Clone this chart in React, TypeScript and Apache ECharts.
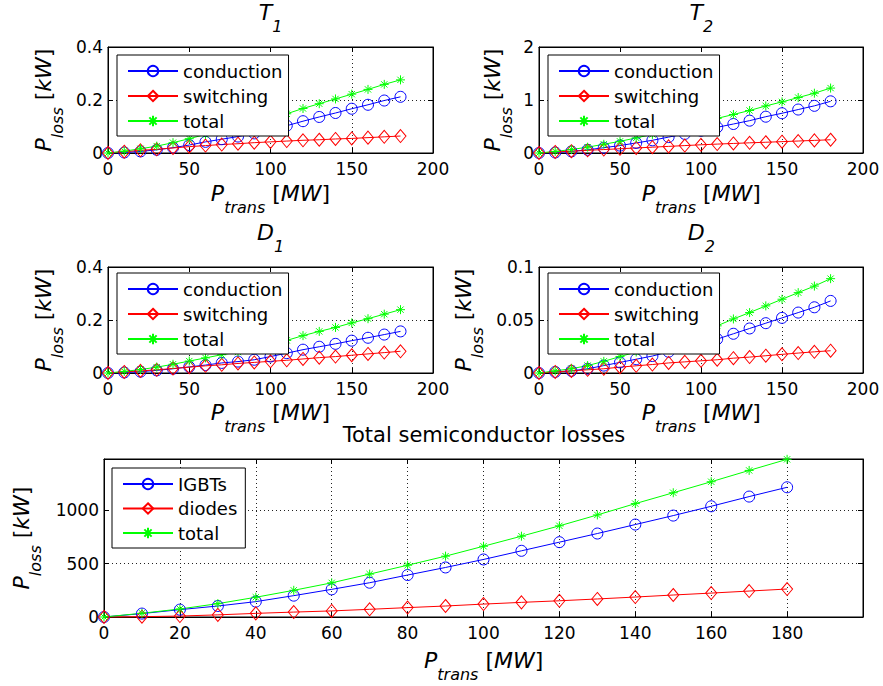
import React, { useEffect, useRef } from "react";
import * as echarts from "echarts";

const F = "DejaVu Sans";

const xs = [0, 10, 20, 30, 40, 50, 60, 70, 80, 90, 100, 110, 120, 130, 140, 150, 160, 170, 180];

const t1Conduction = [0, 0.002, 0.006, 0.012, 0.02, 0.03, 0.042, 0.052, 0.062, 0.074, 0.088, 0.103, 0.12, 0.136, 0.151, 0.167, 0.182, 0.198, 0.212];
const t1Switching = [0, 0.005, 0.01, 0.014, 0.019, 0.024, 0.028, 0.032, 0.035, 0.039, 0.042, 0.045, 0.048, 0.05, 0.053, 0.055, 0.058, 0.061, 0.064];
const t1Total = [0, 0.007, 0.016, 0.026, 0.039, 0.054, 0.07, 0.084, 0.097, 0.113, 0.13, 0.148, 0.168, 0.186, 0.204, 0.222, 0.24, 0.259, 0.276];

const t2Conduction = [0, 0.01, 0.03, 0.06, 0.1, 0.14, 0.19, 0.24, 0.3, 0.36, 0.42, 0.485, 0.547, 0.61, 0.685, 0.75, 0.82, 0.89, 0.975];
const t2Switching = [0, 0.02, 0.035, 0.05, 0.065, 0.08, 0.095, 0.11, 0.125, 0.14, 0.155, 0.168, 0.18, 0.192, 0.203, 0.214, 0.226, 0.238, 0.25];
const t2Total = [0, 0.03, 0.065, 0.11, 0.165, 0.22, 0.285, 0.35, 0.425, 0.5, 0.575, 0.653, 0.727, 0.802, 0.888, 0.964, 1.046, 1.128, 1.225];

const d1Conduction = [0, 0.002, 0.005, 0.01, 0.016, 0.023, 0.03, 0.038, 0.043, 0.05, 0.062, 0.075, 0.088, 0.099, 0.11, 0.122, 0.133, 0.145, 0.157];
const d1Switching = [0, 0.004, 0.008, 0.012, 0.017, 0.022, 0.027, 0.031, 0.036, 0.04, 0.044, 0.048, 0.053, 0.058, 0.062, 0.067, 0.072, 0.077, 0.082];
const d1Total = [0, 0.006, 0.013, 0.022, 0.033, 0.045, 0.057, 0.069, 0.079, 0.09, 0.106, 0.123, 0.141, 0.157, 0.172, 0.189, 0.205, 0.222, 0.239];

const d2Conduction = [0, 0.001, 0.002, 0.004, 0.007, 0.01, 0.013, 0.016, 0.02, 0.024, 0.028, 0.032, 0.037, 0.042, 0.047, 0.052, 0.057, 0.062, 0.068];
const d2Switching = [0, 0.001, 0.002, 0.003, 0.004, 0.0055, 0.0068, 0.008, 0.0095, 0.0105, 0.0115, 0.0125, 0.014, 0.015, 0.0163, 0.0176, 0.0188, 0.02, 0.021];
const d2Total = [0, 0.002, 0.004, 0.007, 0.011, 0.0155, 0.0198, 0.024, 0.0295, 0.0345, 0.0395, 0.0445, 0.051, 0.057, 0.0633, 0.0696, 0.0758, 0.082, 0.089];

const totIGBTs = [0, 32, 69, 103, 144, 200, 259, 321, 393, 464, 539, 620, 701, 782, 866, 950, 1037, 1128, 1215];
const totDiodes = [0, 3, 9, 20, 34, 46, 57, 72, 88, 103, 121, 137, 152, 169, 187, 206, 224, 243, 262];
const totTotal = [0, 35, 75, 125, 185, 250, 320, 402, 485, 570, 663, 757, 854, 956, 1062, 1164, 1267, 1373, 1477];

const subLegend = ["conduction", "switching", "total"];
const totLegend = ["IGBTs", "diodes", "total"];

const BLUE = "#0000ff";
const RED = "#ff0000";
const GREEN = "#00ff00";
const STAR = "path://M5 0L5 10M0 5L10 5M1.5 1.5L8.5 8.5M1.5 8.5L8.5 1.5";

const zip = (ys: number[]) => xs.map((x, i) => [x, ys[i]]);

function mkSeries(name: string, ys: number[], gi: number, kind: number) {
  const color = [BLUE, RED, GREEN][kind];
  const symbol = ["circle", "diamond", STAR][kind];
  const size: any = [11, [11, 13], 9][kind];
  return {
    type: "line",
    name,
    xAxisIndex: gi * 2,
    yAxisIndex: gi * 2,
    data: zip(ys),
    symbol,
    symbolSize: size,
    showAllSymbol: true,
    clip: false,
    lineStyle: { color, width: 1 },
    itemStyle: { color: "none", borderColor: color, borderWidth: 1 },
    emphasis: { disabled: true },
    silent: true,
  };
}

const axisCommon = {
  type: "value",
  axisLine: { show: true, onZero: false, lineStyle: { color: "#000", width: 1 } },
  axisTick: { show: true, inside: true, length: 5, lineStyle: { color: "#000", width: 1 } },
};

const plain = (v: number) => String(v);

function mkAxes(gi: number, xr: number[], yr: number[], hideMax: boolean) {
  const xLab = {
    color: "#000",
    fontSize: 17,
    fontFamily: F,
    margin: 7,
    formatter: plain,
    showMaxLabel: hideMax ? false : true,
  };
  const yLab = {
    color: "#000",
    fontSize: 17,
    fontFamily: F,
    margin: 5,
    formatter: plain,
    showMaxLabel: hideMax ? false : true,
  };
  const split = { show: true, lineStyle: { color: "#222", width: 1, type: [1, 3] } };
  const xa = [
    { ...axisCommon, gridIndex: gi, position: "bottom", min: xr[0], max: xr[1], interval: xr[2], axisLabel: xLab, splitLine: split },
    { ...axisCommon, gridIndex: gi, position: "top", min: xr[0], max: xr[1], interval: xr[2], axisLabel: { show: false }, splitLine: { show: false } },
  ];
  const ya = [
    { ...axisCommon, gridIndex: gi, position: "left", min: yr[0], max: yr[1], interval: yr[2], axisLabel: yLab, splitLine: split },
    { ...axisCommon, gridIndex: gi, position: "right", min: yr[0], max: yr[1], interval: yr[2], axisLabel: { show: false }, splitLine: { show: false } },
  ];
  return { xa, ya };
}

const richStyles = {
  p: { fontSize: 22, fontStyle: "italic", lineHeight: 22, verticalAlign: "top", fontFamily: F, color: "#000" },
  s: { fontSize: 16, fontStyle: "italic", lineHeight: 16, verticalAlign: "top", padding: [17, 0, 0, 0], fontFamily: F, color: "#000" },
  b: { fontSize: 22, lineHeight: 22, verticalAlign: "top", fontFamily: F, color: "#000" },
  u: { fontSize: 22, fontStyle: "italic", lineHeight: 22, verticalAlign: "top", fontFamily: F, color: "#000" },
};

function labelText(main: string, sub: string, unit?: string) {
  let t = `{p|${main}}{s|${sub}}`;
  if (unit) t += `{b| [}{u|${unit}}{b|]}`;
  return t;
}

function txt(text: string, x: number, y: number, rotate: boolean) {
  return {
    type: "text",
    x,
    y,
    rotation: rotate ? Math.PI / 2 : 0,
    silent: true,
    style: {
      text,
      rich: richStyles,
      align: "center",
      verticalAlign: "top",
      textAlign: "center",
      textVerticalAlign: "top",
      fill: "#000",
      fontFamily: F,
    },
  };
}

function mkLegend(names: string[], left: number, top: number, padRight: number, gap: number) {
  return {
    orient: "vertical",
    left,
    top,
    data: names,
    itemWidth: 50,
    itemHeight: 13,
    itemGap: gap,
    padding: [7, padRight, 6, 10],
    backgroundColor: "#fff",
    borderColor: "#000",
    borderWidth: 1,
    borderRadius: 0,
    selectedMode: false,
    textStyle: { fontSize: 18, fontFamily: F, color: "#000", lineHeight: 18 },
  };
}

export default function App() {
  const ref = useRef<HTMLDivElement>(null);
  useEffect(() => {
    if (!ref.current) return;
    const chart = echarts.init(ref.current, undefined, { renderer: "svg" });

    const grids = [
      { left: 108, top: 47, width: 325, height: 106 },
      { left: 539, top: 47, width: 324, height: 106 },
      { left: 108, top: 267, width: 325, height: 106 },
      { left: 539, top: 267, width: 324, height: 106 },
      { left: 104, top: 459, width: 759, height: 158 },
    ].map((g) => ({ ...g, show: true, borderColor: "#000", borderWidth: 1, backgroundColor: "#fff" }));

    const ranges = [
      { x: [0, 200, 50], y: [0, 0.4, 0.2], hide: false },
      { x: [0, 200, 50], y: [0, 2, 1], hide: false },
      { x: [0, 200, 50], y: [0, 0.4, 0.2], hide: false },
      { x: [0, 200, 50], y: [0, 0.1, 0.05], hide: false },
      { x: [0, 200, 20], y: [0, 1480, 500], hide: true },
    ];
    const xAxis: any[] = [];
    const yAxis: any[] = [];
    ranges.forEach((r, i) => {
      const { xa, ya } = mkAxes(i, r.x, r.y, r.hide);
      xAxis.push(...xa);
      yAxis.push(...ya);
    });

    const subsets = [
      [t1Conduction, t1Switching, t1Total],
      [t2Conduction, t2Switching, t2Total],
      [d1Conduction, d1Switching, d1Total],
      [d2Conduction, d2Switching, d2Total],
    ];
    const series: any[] = [];
    subsets.forEach((set, gi) => {
      set.forEach((ys, k) => series.push(mkSeries(subLegend[k], ys, gi, k)));
    });
    [totIGBTs, totDiodes, totTotal].forEach((ys, k) => series.push(mkSeries(totLegend[k], ys, 4, k)));

    const legend = [
      mkLegend(subLegend, 117, 55, 6, 7),
      mkLegend(subLegend, 548, 55, 6, 7),
      mkLegend(subLegend, 117, 273, 6, 7),
      mkLegend(subLegend, 548, 273, 6, 7),
      mkLegend(totLegend, 112, 468, 8, 6.5),
    ];

    const graphic = [
      txt(labelText("T", "1"), 270.5, 1.5, false),
      txt(labelText("T", "2"), 701.3, 1.5, false),
      txt(labelText("D", "1"), 270.5, 221.5, false),
      txt(labelText("D", "2"), 701.3, 221.5, false),
      txt(labelText("P", "trans", "MW"), 270.5, 182.5, false),
      txt(labelText("P", "trans", "MW"), 701.3, 182.5, false),
      txt(labelText("P", "trans", "MW"), 270.5, 401.5, false),
      txt(labelText("P", "trans", "MW"), 701.3, 401.5, false),
      txt(labelText("P", "trans", "MW"), 483.7, 649.5, false),
      txt(labelText("P", "loss", "kW"), 32.5, 100, true),
      txt(labelText("P", "loss", "kW"), 481, 100, true),
      txt(labelText("P", "loss", "kW"), 32.5, 320, true),
      txt(labelText("P", "loss", "kW"), 452.5, 320, true),
      txt(labelText("P", "loss", "kW"), 10.5, 538, true),
      {
        type: "text",
        x: 484,
        y: 424,
        silent: true,
        style: {
          text: "Total semiconductor losses",
          fontSize: 21,
          lineHeight: 21,
          fontFamily: F,
          fill: "#000",
          align: "center",
          verticalAlign: "top",
          textAlign: "center",
          textVerticalAlign: "top",
        },
      },
    ];

    chart.setOption({
      animation: false,
      backgroundColor: "#fff",
      textStyle: { fontFamily: F },
      grid: grids,
      xAxis,
      yAxis,
      series,
      legend,
      graphic,
    });
    return () => chart.dispose();
  }, []);
  return (
    <div
      ref={ref}
      style={{ position: "fixed", left: 0, top: 0, width: 883, height: 686, background: "#fff" }}
    />
  );
}
